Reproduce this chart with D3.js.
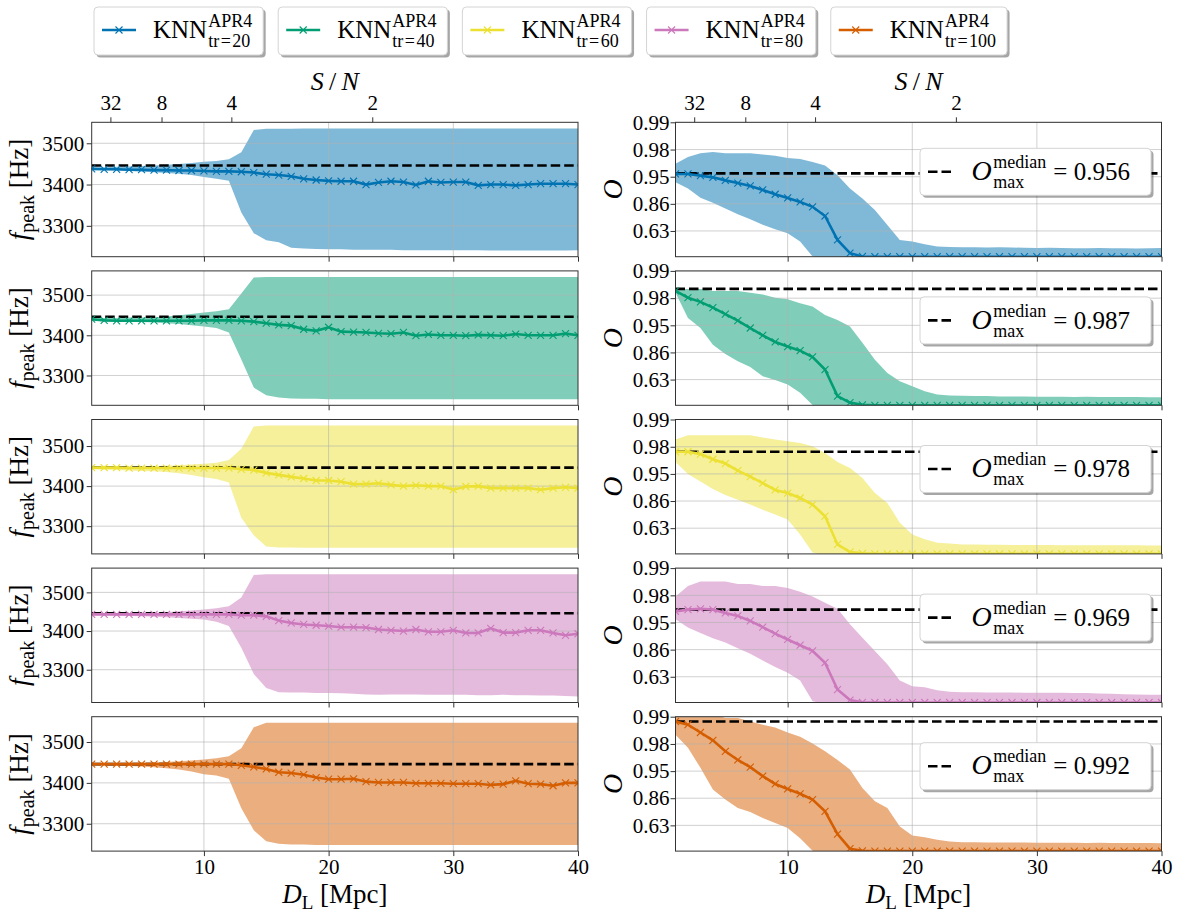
<!DOCTYPE html>
<html lang="en">
<head>
<meta charset="UTF-8">
<title>KNN reconstructions: f_peak and overlap against distance</title>
<script src="https://cdnjs.cloudflare.com/ajax/libs/d3/7.8.5/d3.min.js"></script>
<style>
    body { margin: 0; background: #fff; }
    svg { display: block; font-family: "Liberation Serif", "DejaVu Serif", serif; }
    svg text { font-family: "Liberation Serif", "DejaVu Serif", serif; }
</style>
</head>
<body>
<svg id="chart" width="1179" height="919"></svg>
<script>
// luminosity distance of the injections [Mpc]
const distances = [1,2,3,4,5,6,7,8,9,10,11,12,13,14,15,16,17,18,19,20,
                   21,22,23,24,25,26,27,28,29,30,31,32,33,34,35,36,37,38,39,40];

const trainSizes = [20, 40, 60, 80, 100];
const seriesColors = ["#0173b2", "#029e73", "#ece133", "#cc78bc", "#d55e00"];

// f_peak [Hz]: median and 90% band
const fpeakMedian20 = [3438,3437,3437,3436,3436,3435,3435,3434,3434,3433,3432,3432,3431,3429,3425,3423,3420,3414,3411,3409,
                       3408,3408,3400,3405,3408,3406,3399,3408,3405,3406,3406,3398,3400,3400,3398,3400,3402,3402,3402,3400];
const fpeakLow20 = [3436,3435,3434,3433,3431,3430,3428,3426,3423,3418,3414,3409,3332,3282,3265,3260,3247,3245,3244,3243,
                    3243,3242,3242,3242,3242,3241,3241,3241,3241,3241,3241,3241,3240,3240,3240,3240,3240,3240,3240,3241];
const fpeakHigh20 = [3441,3442,3443,3444,3445,3446,3448,3450,3452,3455,3457,3461,3478,3532,3535,3535,3535,3536,3536,3536,
                     3536,3536,3536,3536,3536,3536,3536,3536,3536,3536,3536,3536,3536,3536,3536,3536,3536,3536,3536,3536];

const fpeakMedian40 = [3440,3437,3436,3436,3436,3436,3436,3436,3436,3437,3437,3437,3436,3434,3430,3426,3424,3415,3411,3420,
                       3409,3408,3407,3405,3404,3407,3399,3402,3400,3400,3399,3401,3400,3399,3403,3400,3400,3400,3404,3400];
const fpeakLow40 = [3437,3436,3435,3434,3433,3432,3430,3428,3425,3422,3418,3407,3340,3270,3251,3245,3243,3242,3242,3241,
                    3241,3241,3241,3241,3241,3241,3241,3241,3241,3241,3241,3241,3241,3241,3241,3241,3241,3241,3241,3241];
const fpeakHigh40 = [3442,3443,3443,3444,3444,3445,3447,3450,3453,3457,3460,3465,3504,3544,3545,3545,3545,3545,3545,3545,
                     3545,3545,3545,3545,3545,3545,3545,3545,3545,3545,3545,3545,3545,3545,3545,3545,3545,3545,3545,3545];

const fpeakMedian60 = [3446,3446,3446,3445,3445,3445,3445,3445,3445,3445,3445,3445,3442,3440,3433,3428,3423,3419,3414,3414,
                       3411,3405,3405,3407,3403,3400,3402,3400,3400,3391,3399,3400,3395,3395,3395,3395,3391,3395,3397,3395];
const fpeakLow60 = [3442,3441,3440,3439,3438,3437,3435,3432,3428,3422,3418,3409,3321,3277,3249,3247,3247,3246,3246,3246,
                    3246,3246,3246,3246,3246,3246,3246,3246,3246,3246,3246,3246,3246,3246,3246,3246,3246,3246,3246,3246];
const fpeakHigh60 = [3447,3447,3448,3448,3449,3450,3451,3452,3454,3456,3458,3465,3493,3549,3551,3551,3551,3551,3551,3551,
                     3551,3551,3551,3551,3551,3551,3551,3551,3551,3551,3551,3551,3551,3551,3551,3551,3551,3551,3551,3551];

const fpeakMedian80 = [3443,3443,3443,3443,3443,3443,3443,3443,3443,3443,3443,3443,3441,3441,3438,3427,3421,3417,3415,3413,
                       3410,3410,3409,3404,3402,3400,3404,3398,3398,3402,3395,3395,3407,3396,3396,3402,3402,3395,3389,3393];
const fpeakLow80 = [3441,3441,3440,3439,3438,3437,3436,3434,3432,3430,3424,3413,3357,3289,3253,3242,3241,3241,3240,3240,
                    3239,3238,3236,3235,3236,3236,3236,3235,3235,3235,3235,3234,3234,3235,3234,3234,3233,3233,3232,3231];
const fpeakHigh80 = [3444,3445,3446,3446,3447,3448,3449,3451,3453,3456,3459,3464,3487,3545,3547,3547,3547,3547,3547,3547,
                     3547,3547,3547,3547,3547,3547,3547,3547,3547,3547,3547,3547,3547,3547,3547,3547,3547,3547,3547,3547];

const fpeakMedian100 = [3446,3446,3446,3446,3446,3446,3446,3446,3446,3446,3446,3446,3443,3439,3434,3426,3424,3420,3413,3409,
                        3409,3410,3403,3401,3401,3401,3399,3399,3399,3398,3398,3398,3395,3397,3405,3398,3397,3393,3400,3400];
const fpeakLow100 = [3444,3443,3442,3441,3440,3438,3436,3433,3428,3421,3418,3410,3338,3284,3257,3251,3249,3249,3248,3248,
                     3248,3248,3248,3248,3248,3248,3248,3248,3248,3248,3248,3248,3248,3248,3248,3248,3248,3248,3248,3248];
const fpeakHigh100 = [3446,3447,3448,3449,3449,3450,3451,3453,3455,3457,3460,3465,3485,3536,3547,3547,3547,3547,3547,3547,
                      3547,3547,3547,3547,3547,3547,3547,3547,3547,3547,3547,3547,3547,3547,3547,3547,3547,3547,3547,3547];

const fpeakReference = 3446;

// overlap O: median and 90% band
const overlapMedian20 = [0.955,0.955,0.952,0.949,0.943,0.937,0.930,0.919,0.905,0.891,0.874,0.849,0.788,0.488,0.165,0.058,0.05,0.05,0.05,0.05,
                         0.05,0.05,0.05,0.05,0.05,0.05,0.05,0.05,0.05,0.05,0.05,0.05,0.05,0.05,0.05,0.05,0.05,0.05,0.05,0.05];
const overlapLow20 = [0.939,0.923,0.892,0.870,0.840,0.802,0.761,0.708,0.654,0.598,0.457,0.058,0,0,0,0,0,0,0,0,
                      0,0,0,0,0,0,0,0,0,0,0,0,0,0,0,0,0,0,0,0];
const overlapHigh20 = [0.969,0.976,0.979,0.980,0.979,0.979,0.979,0.978,0.977,0.975,0.974,0.971,0.967,0.953,0.923,0.889,0.830,0.705,0.488,0.457,
                       0.400,0.350,0.336,0.330,0.330,0.323,0.330,0.323,0.316,0.309,0.316,0.309,0.302,0.302,0.309,0.302,0.302,0.295,0.302,0.309];

const overlapMedian40 = [0.986,0.982,0.979,0.974,0.967,0.958,0.945,0.928,0.908,0.891,0.873,0.840,0.746,0.323,0.139,0.068,0.05,0.05,0.05,0.05,
                         0.05,0.05,0.05,0.05,0.05,0.05,0.05,0.05,0.05,0.05,0.05,0.05,0.05,0.05,0.05,0.05,0.05,0.05,0.05,0.05];
const overlapLow40 = [0.985,0.962,0.945,0.898,0.856,0.812,0.768,0.674,0.625,0.560,0.400,0.058,0,0,0,0,0,0,0,0,
                      0,0,0,0,0,0,0,0,0,0,0,0,0,0,0,0,0,0,0,0];
const overlapHigh40 = [0.987,0.987,0.987,0.986,0.986,0.986,0.985,0.984,0.982,0.981,0.978,0.975,0.966,0.959,0.948,0.905,0.823,0.711,0.609,0.528,
                       0.435,0.362,0.336,0.330,0.323,0.323,0.316,0.316,0.316,0.309,0.309,0.309,0.302,0.309,0.302,0.302,0.302,0.302,0.295,0.295];

const overlapMedian60 = [0.978,0.978,0.976,0.971,0.966,0.956,0.945,0.930,0.910,0.899,0.879,0.846,0.763,0.330,0.113,0.068,0.05,0.05,0.05,0.05,
                         0.05,0.05,0.05,0.05,0.05,0.05,0.05,0.05,0.05,0.05,0.05,0.05,0.05,0.05,0.05,0.05,0.05,0.05,0.05,0.05];
const overlapLow60 = [0.968,0.950,0.934,0.913,0.892,0.871,0.846,0.814,0.777,0.733,0.537,0.095,0,0,0,0,0,0,0,0,
                      0,0,0,0,0,0,0,0,0,0,0,0,0,0,0,0,0,0,0,0];
const overlapHigh60 = [0.986,0.988,0.988,0.988,0.988,0.988,0.988,0.987,0.986,0.985,0.984,0.982,0.977,0.968,0.960,0.942,0.899,0.855,0.699,0.537,
                       0.446,0.369,0.350,0.330,0.330,0.323,0.323,0.316,0.316,0.316,0.316,0.309,0.309,0.309,0.309,0.309,0.309,0.309,0.302,0.302];

const overlapMedian80 = [0.967,0.969,0.970,0.969,0.965,0.961,0.953,0.941,0.925,0.907,0.885,0.858,0.781,0.411,0.131,0.058,0.05,0.05,0.05,0.05,
                         0.05,0.05,0.05,0.05,0.05,0.05,0.05,0.05,0.05,0.05,0.05,0.05,0.05,0.05,0.05,0.05,0.05,0.05,0.05,0.05];
const overlapLow80 = [0.956,0.940,0.927,0.911,0.896,0.871,0.843,0.798,0.743,0.683,0.577,0.095,0,0,0,0,0,0,0,0,
                      0,0,0,0,0,0,0,0,0,0,0,0,0,0,0,0,0,0,0,0];
const overlapHigh80 = [0.981,0.987,0.989,0.989,0.989,0.988,0.988,0.987,0.987,0.986,0.984,0.981,0.976,0.970,0.947,0.913,0.858,0.768,0.577,0.478,
                       0.457,0.394,0.362,0.350,0.350,0.343,0.343,0.343,0.336,0.336,0.336,0.336,0.330,0.330,0.316,0.309,0.302,0.295,0.288,0.288];

const overlapMedian100 = [0.992,0.991,0.988,0.984,0.976,0.967,0.957,0.940,0.920,0.904,0.885,0.858,0.781,0.493,0.131,0.058,0.05,0.05,0.05,0.05,
                          0.05,0.05,0.05,0.05,0.05,0.05,0.05,0.05,0.05,0.05,0.05,0.05,0.05,0.05,0.05,0.05,0.05,0.05,0.05,0.05];
const overlapLow100 = [0.987,0.979,0.956,0.902,0.858,0.806,0.775,0.719,0.664,0.593,0.411,0.058,0,0,0,0,0,0,0,0,
                       0,0,0,0,0,0,0,0,0,0,0,0,0,0,0,0,0,0,0,0];
const overlapHigh100 = [0.9945,0.995,0.9945,0.9939,0.993,0.993,0.992,0.991,0.990,0.988,0.986,0.982,0.976,0.967,0.953,0.907,0.849,0.806,0.617,0.467,
                        0.429,0.375,0.336,0.316,0.316,0.309,0.309,0.309,0.309,0.302,0.302,0.302,0.302,0.295,0.302,0.295,0.295,0.295,0.295,0.288];

const overlapMaxMedian = [0.956, 0.987, 0.978, 0.969, 0.992];

// ticks
const distanceTicks = [10, 20, 30, 40];
const fpeakTicks = [3300, 3400, 3500];
const overlapTicks = [0.6321, 0.8647, 0.9502, 0.9817, 0.9933];
const overlapLimits = [0.05, 0.9933];
const snrTickDistances = [2.5, 6.6, 12.2, 23.5];
const snrTickLabels = ["32", "8", "4", "2"];

const fpeakSeries = [
    { median: fpeakMedian20, low: fpeakLow20, high: fpeakHigh20 },
    { median: fpeakMedian40, low: fpeakLow40, high: fpeakHigh40 },
    { median: fpeakMedian60, low: fpeakLow60, high: fpeakHigh60 },
    { median: fpeakMedian80, low: fpeakLow80, high: fpeakHigh80 },
    { median: fpeakMedian100, low: fpeakLow100, high: fpeakHigh100 }
];
const overlapSeries = [
    { median: overlapMedian20, low: overlapLow20, high: overlapHigh20 },
    { median: overlapMedian40, low: overlapLow40, high: overlapHigh40 },
    { median: overlapMedian60, low: overlapLow60, high: overlapHigh60 },
    { median: overlapMedian80, low: overlapLow80, high: overlapHigh80 },
    { median: overlapMedian100, low: overlapLow100, high: overlapHigh100 }
];

// layout
const colX = [[91.7, 578], [675.5, 1161.5]];
const rowTop = 122.3, rowH = 134.4, rowStep = 148.6;
const tickFont = 21;
const serif = "'Liberation Serif', 'DejaVu Serif', serif";
const ink = "#000", spine = "#333";

const svg = d3.select("#chart");
svg.append("rect").attr("width", 1179).attr("height", 919).attr("fill", "#fff");
const defs = svg.append("defs");

const crossPath = s => `M${-s},${-s}L${s},${s}M${-s},${s}L${s},${-s}`;

function styleAxis(g) {
    g.attr("font-family", null).attr("font-size", null);
    g.select(".domain").remove();
    g.selectAll(".tick line").attr("stroke", spine).attr("stroke-width", 1);
    g.selectAll(".tick text").attr("fill", ink)
        .style("font-size", tickFont + "px").style("font-family", serif);
}

function drawPanel(row, col, cfg) {
    const [x0, x1] = colX[col];
    const top = rowTop + row * rowStep;
    const bottom = top + rowH;
    const x = d3.scaleLinear().domain([1, 40]).range([x0, x1]);
    const y = cfg.scale.range([bottom, top]);
    const yv = v => y(cfg.map(v));

    const clipId = "clip" + row + "_" + col;
    defs.append("clipPath").attr("id", clipId)
        .append("rect").attr("x", x0).attr("y", top).attr("width", x1 - x0).attr("height", rowH);
    const plot = svg.append("g").attr("clip-path", `url(#${clipId})`);

    // band
    plot.append("path").datum(distances)
        .attr("d", d3.area().x(d => x(d)).y0((d, i) => yv(cfg.low[i])).y1((d, i) => yv(cfg.high[i])))
        .attr("fill", cfg.color).attr("fill-opacity", 0.5);

    // grid sits above the band, like matplotlib's default
    const grid = plot.append("g").attr("stroke", "#b0b0b0").attr("stroke-opacity", 0.6).attr("stroke-width", 1);
    grid.selectAll("line.gx").data(distanceTicks.filter(d => d < 40)).join("line").attr("class", "gx")
        .attr("x1", d => x(d)).attr("x2", d => x(d)).attr("y1", top).attr("y2", bottom);
    grid.selectAll("line.gy").data(cfg.ticks).join("line").attr("class", "gy")
        .attr("x1", x0).attr("x2", x1).attr("y1", d => yv(d)).attr("y2", d => yv(d));

    // reference level
    plot.append("line")
        .attr("x1", x0).attr("x2", x1).attr("y1", yv(cfg.ref)).attr("y2", yv(cfg.ref))
        .attr("stroke", "#000").attr("stroke-width", 2.6).attr("stroke-dasharray", "9.5,4");

    // median curve with x markers
    plot.append("path").datum(distances)
        .attr("d", d3.line().x(d => x(d)).y((d, i) => yv(cfg.median[i])))
        .attr("fill", "none").attr("stroke", cfg.color).attr("stroke-width", 2.6);
    plot.selectAll("path.mk").data(distances).join("path").attr("class", "mk")
        .attr("transform", (d, i) => `translate(${x(d)},${yv(cfg.median[i])})`)
        .attr("d", crossPath(3.5))
        .attr("stroke", cfg.color).attr("stroke-width", 1.1).attr("fill", "none");

    // axes
    const ay = svg.append("g").attr("transform", `translate(${x0},0)`)
        .call(d3.axisLeft(y).tickValues(cfg.ticks.map(cfg.map)).tickFormat(cfg.format)
            .tickSize(5).tickPadding(cfg.pad));
    styleAxis(ay);

    const ax = svg.append("g").attr("transform", `translate(0,${bottom})`)
        .call(d3.axisBottom(x).tickValues(distanceTicks).tickSize(5).tickPadding(3)
            .tickFormat(row === 4 ? d3.format("d") : () => ""));
    styleAxis(ax);

    if (row === 0) {
        const at = svg.append("g").attr("transform", `translate(0,${top})`)
            .call(d3.axisTop(x).tickValues(snrTickDistances).tickSize(5).tickPadding(7)
                .tickFormat((d, i) => snrTickLabels[i]));
        styleAxis(at);
        const sn = svg.append("text").attr("x", (x0 + x1) / 2).attr("y", 90)
            .attr("text-anchor", "middle").attr("font-size", 26).attr("fill", ink);
        sn.append("tspan").attr("font-style", "italic").text("S");
        sn.append("tspan").text("\u2009/\u2009");
        sn.append("tspan").attr("font-style", "italic").text("N");
    }

    svg.append("rect").attr("x", x0).attr("y", top).attr("width", x1 - x0).attr("height", rowH)
        .attr("fill", "none").attr("stroke", spine).attr("stroke-width", 1);

    return { top, bottom, x0, x1 };
}

fpeakSeries.forEach((s, row) => {
    const lo = d3.min(s.low), hi = d3.max(s.high), pad = 0.05 * (hi - lo);
    const p = drawPanel(row, 0, {
        color: seriesColors[row], low: s.low, high: s.high, median: s.median,
        scale: d3.scaleLinear().domain([lo - pad, hi + pad]),
        map: v => v, ticks: fpeakTicks, format: d3.format("d"), pad: 2.5, ref: fpeakReference
    });
    // y label f_peak [Hz]
    const t = svg.append("text")
        .attr("transform", `translate(28,${(p.top + p.bottom) / 2}) rotate(-90)`)
        .attr("text-anchor", "middle").attr("font-size", 27).attr("fill", ink);
    t.append("tspan").attr("font-style", "italic").text("f");
    t.append("tspan").attr("font-size", 20).attr("dy", 6).text("peak");
    t.append("tspan").attr("dy", -6).text(" [Hz]");
});

overlapSeries.forEach((s, row) => {
    const p = drawPanel(row, 1, {
        color: seriesColors[row], low: s.low, high: s.high, median: s.median,
        scale: d3.scaleLog().domain([1 - overlapLimits[0], 1 - overlapLimits[1]]),
        map: v => 1 - v, ticks: overlapTicks, format: v => d3.format(".2f")(1 - v), pad: 1,
        ref: overlapMaxMedian[row]
    });
    svg.append("text")
        .attr("transform", `translate(622,${(p.top + p.bottom) / 2}) rotate(-90)`)
        .attr("text-anchor", "middle").attr("font-size", 28).attr("font-style", "italic")
        .attr("fill", ink).text("O");

    // legend box with the median of the maximum overlap
    const bx = 920, bw = 231, by = p.top + 26, bh = 47;
    const lg = svg.append("g");
    lg.append("rect").attr("x", bx + 2.5).attr("y", by + 2.5).attr("width", bw).attr("height", bh)
        .attr("rx", 4).attr("fill", "#000").attr("fill-opacity", 0.35);
    lg.append("rect").attr("x", bx).attr("y", by).attr("width", bw).attr("height", bh)
        .attr("rx", 4).attr("fill", "#fff").attr("stroke", "#d4d4d4").attr("stroke-width", 1);
    lg.append("line").attr("x1", bx + 8).attr("x2", bx + 31).attr("y1", by + bh / 2).attr("y2", by + bh / 2)
        .attr("stroke", "#000").attr("stroke-width", 2.6).attr("stroke-dasharray", "9.5,4");
    const base = p.top + 57.7;
    let tx = bx + 51.6;
    const o = lg.append("text").attr("x", tx).attr("y", base).attr("font-size", 28)
        .attr("font-style", "italic").attr("fill", ink).text("O");
    tx += o.node().getComputedTextLength() + 1.5;
    const sup = lg.append("text").attr("x", tx).attr("y", base - 12).attr("font-size", 18).attr("fill", ink).text("median");
    const sub = lg.append("text").attr("x", tx).attr("y", base + 8).attr("font-size", 18).attr("fill", ink).text("max");
    tx += Math.max(sup.node().getComputedTextLength(), sub.node().getComputedTextLength()) + 7;
    lg.append("text").attr("x", tx).attr("y", base).attr("font-size", 25).attr("fill", ink)
        .text("= " + d3.format(".3f")(overlapMaxMedian[row]));
});

// x labels
[0, 1].forEach(col => {
    const [x0, x1] = colX[col];
    const t = svg.append("text").attr("x", (x0 + x1) / 2).attr("y", 903)
        .attr("text-anchor", "middle").attr("font-size", 27).attr("fill", ink);
    t.append("tspan").attr("font-style", "italic").text("D");
    t.append("tspan").attr("font-size", 19).attr("dy", 6).text("L");
    t.append("tspan").attr("dy", -6).text(" [Mpc]");
});

// top legend
let lx = 94;
trainSizes.forEach((n, i) => {
    const g = svg.append("g");
    const by = 7, bh = 48;
    const shadow = g.append("rect");
    const box = g.append("rect");
    g.append("line").attr("x1", lx + 8).attr("x2", lx + 42).attr("y1", by + 23).attr("y2", by + 23)
        .attr("stroke", seriesColors[i]).attr("stroke-width", 2.6);
    g.append("path").attr("transform", `translate(${lx + 25},${by + 23})`).attr("d", crossPath(3.5))
        .attr("stroke", seriesColors[i]).attr("stroke-width", 1.1);
    const knn = g.append("text").attr("x", lx + 59).attr("y", 38.3).attr("font-size", 25).attr("fill", ink).text("KNN");
    const kx = lx + 59 + knn.node().getComputedTextLength() + 1;
    const sup = g.append("text").attr("x", kx).attr("y", 27).attr("font-size", 18).attr("fill", ink).text("APR4");
    const sub = g.append("text").attr("x", kx).attr("y", 47).attr("font-size", 18).attr("fill", ink)
        .text("tr\u200a=\u200a" + n);
    const w = kx - lx + Math.max(sup.node().getComputedTextLength(), sub.node().getComputedTextLength()) + 11;
    shadow.attr("x", lx + 2.5).attr("y", by + 2.5).attr("width", w).attr("height", bh).attr("rx", 4)
        .attr("fill", "#000").attr("fill-opacity", 0.35);
    box.attr("x", lx).attr("y", by).attr("width", w).attr("height", bh).attr("rx", 4)
        .attr("fill", "#fff").attr("stroke", "#d4d4d4").attr("stroke-width", 1);
    lx += w + 15;
});
</script>
</body>
</html>
